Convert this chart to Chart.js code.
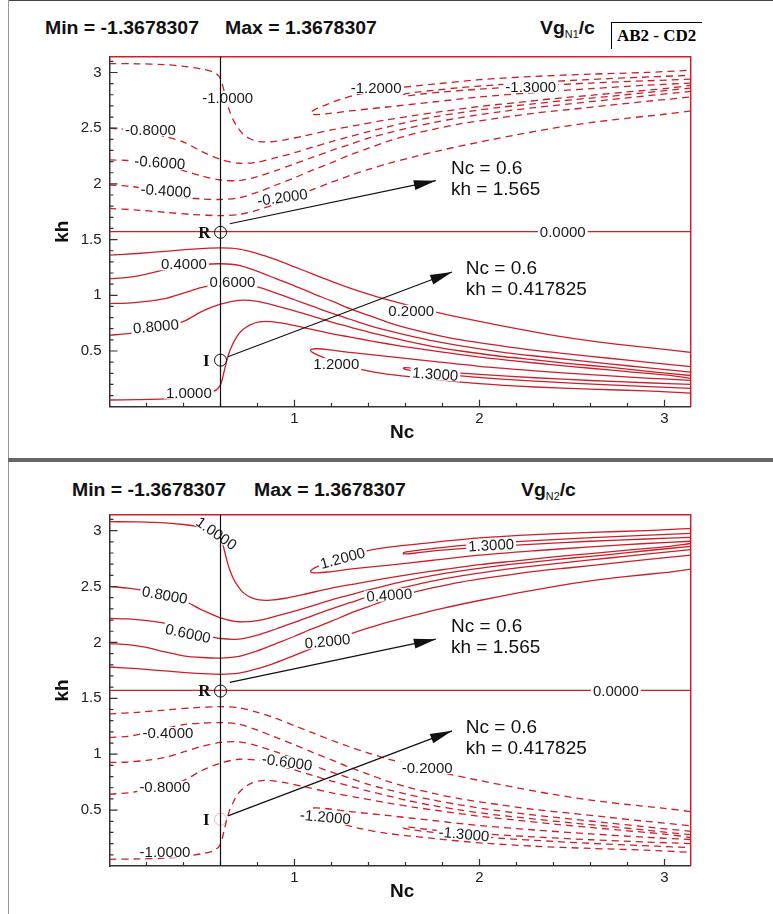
<!DOCTYPE html>
<html><head><meta charset="utf-8">
<script src="https://cdn.jsdelivr.net/npm/chart.js@4.4.1/dist/chart.umd.min.js"></script>
<style>
html,body{margin:0;padding:0;background:#fff;}
body{width:773px;height:914px;position:relative;overflow:hidden;font-family:"Liberation Sans",Arial,sans-serif;}
canvas{position:absolute;left:0;}
.hdr{position:absolute;font-weight:bold;white-space:pre;color:#111;font-size:18px;line-height:19px;transform:scaleX(1.08);transform-origin:0 50%;}
.hdr sub{font-size:10px;font-weight:normal;vertical-align:-4px;}
.box{position:absolute;border-left:1px solid #000;border-top:1px solid #000;}
.box span{position:absolute;left:5px;top:3px;font-family:"Liberation Serif","Times New Roman",serif;font-weight:bold;font-size:17px;line-height:19px;white-space:pre;color:#000;}
.frame{position:absolute;background:#777;}
</style></head><body>
<div class="frame" style="left:8px;top:0;width:765px;height:1px;background:#444"></div>
<div class="frame" style="left:8px;top:0;width:1px;height:458px;background:#999"></div>
<div class="frame" style="left:8px;top:458px;width:765px;height:4px;background:#666"></div>
<div class="frame" style="left:8px;top:462px;width:1px;height:452px;background:#999"></div>

<div class="hdr" style="left:45px;top:19px">Min = -1.3678307</div>
<div class="hdr" style="left:225px;top:19px">Max = 1.3678307</div>
<div class="hdr" style="left:540px;top:19px">Vg<sub>N1</sub>/c</div>
<div class="box" style="left:611px;top:22px;width:90px;height:26px"><span>AB2 - CD2</span></div>

<div class="hdr" style="left:72px;top:481px">Min = -1.3678307</div>
<div class="hdr" style="left:254px;top:481px">Max = 1.3678307</div>
<div class="hdr" style="left:521px;top:481px">Vg<sub>N2</sub>/c</div>

<canvas id="c1" width="773" height="457" style="top:0"></canvas>
<canvas id="c2" width="773" height="452" style="top:462px"></canvas>
<script>
// ---------- data ----------
const X_TICKS = [1, 2, 3];
const Y_TICKS = [0.5, 1, 1.5, 2, 2.5, 3];
const AXIS_MAX = 3.1416;
const MARK_NC = 0.6;
const MARK_R = 1.565;
const MARK_I = 0.417825;

// contour lines above kh = pi/2 (levels 0.2,0.4,0.6,0.8,1.0,1.2,1.3 in magnitude)
const U02 = [[0,1.78],[0.15,1.765],[0.3,1.745],[0.45,1.725],[0.6,1.715],[0.7,1.725],[0.8,1.765],[0.9,1.82],[1.0,1.885],[1.1,1.95],[1.2,2.015],[1.3,2.075],[1.4,2.13],[1.5,2.18],[1.65,2.245],[1.8,2.305],[2.0,2.375],[2.2,2.44],[2.4,2.5],[2.6,2.55],[2.8,2.59],[3.0,2.625],[3.1416,2.655]];
const U04 = [[0,1.99],[0.1,1.98],[0.2,1.955],[0.3,1.915],[0.4,1.88],[0.5,1.865],[0.6,1.86],[0.7,1.875],[0.8,1.925],[0.9,1.99],[1.0,2.055],[1.1,2.125],[1.2,2.19],[1.3,2.26],[1.4,2.32],[1.5,2.38],[1.6,2.43],[1.75,2.49],[1.9,2.54],[2.1,2.59],[2.3,2.635],[2.5,2.67],[2.7,2.705],[2.9,2.74],[3.1416,2.78]];
const U06 = [[0,2.215],[0.1,2.21],[0.2,2.195],[0.3,2.17],[0.4,2.12],[0.5,2.07],[0.6,2.035],[0.7,2.03],[0.8,2.065],[0.9,2.12],[1.0,2.18],[1.1,2.24],[1.2,2.3],[1.3,2.355],[1.4,2.41],[1.5,2.455],[1.6,2.495],[1.75,2.55],[1.9,2.595],[2.1,2.645],[2.3,2.685],[2.5,2.72],[2.7,2.755],[2.9,2.79],[3.1416,2.83]];
const U08 = [[0,2.5],[0.1,2.485],[0.2,2.46],[0.3,2.425],[0.4,2.375],[0.5,2.29],[0.6,2.22],[0.7,2.185],[0.8,2.195],[0.9,2.235],[1.0,2.28],[1.1,2.33],[1.2,2.38],[1.3,2.425],[1.4,2.47],[1.5,2.51],[1.6,2.55],[1.75,2.6],[1.9,2.64],[2.1,2.685],[2.3,2.72],[2.5,2.755],[2.7,2.785],[2.9,2.82],[3.1416,2.86]];
const U10 = [[0,3.08],[0.15,3.078],[0.3,3.07],[0.4,3.055],[0.5,3.03],[0.56,3.005],[0.59,2.97],[0.605,2.92],[0.62,2.83],[0.635,2.73],[0.65,2.65],[0.67,2.57],[0.693,2.505],[0.72,2.45],[0.76,2.405],[0.81,2.38],[0.87,2.378],[0.95,2.395],[1.05,2.43],[1.2,2.485],[1.35,2.53],[1.5,2.575],[1.65,2.615],[1.8,2.65],[2.0,2.695],[2.2,2.73],[2.4,2.765],[2.6,2.795],[2.8,2.825],[3.0,2.855],[3.1416,2.885]];
const U12 = [[3.1416,2.905],[2.9,2.885],[2.6,2.855],[2.3,2.82],[2.0,2.78],[1.75,2.735],[1.5,2.69],[1.3,2.655],[1.18,2.63],[1.12,2.622],[1.095,2.625],[1.087,2.637],[1.095,2.652],[1.12,2.675],[1.17,2.71],[1.25,2.76],[1.35,2.805],[1.5,2.85],[1.75,2.895],[2.0,2.935],[2.3,2.965],[2.6,2.985],[2.9,3.0],[3.1416,3.02]];
const U13 = [[3.1416,2.94],[2.9,2.925],[2.6,2.905],[2.3,2.88],[2.0,2.85],[1.8,2.825],[1.68,2.805],[1.62,2.793],[1.592,2.792],[1.588,2.8],[1.605,2.81],[1.65,2.822],[1.75,2.84],[1.9,2.865],[2.1,2.89],[2.4,2.92],[2.7,2.945],[2.95,2.962],[3.1416,2.975]];

// contour lines below kh = pi/2
const L02 = [[0,1.36],[0.15,1.375],[0.3,1.395],[0.45,1.415],[0.6,1.425],[0.7,1.415],[0.8,1.375],[0.9,1.32],[1.0,1.255],[1.1,1.19],[1.2,1.125],[1.3,1.065],[1.4,1.01],[1.5,0.96],[1.65,0.895],[1.8,0.835],[2.0,0.765],[2.2,0.7],[2.4,0.64],[2.6,0.59],[2.8,0.55],[3.0,0.515],[3.1416,0.487]];
const L04 = [[0,1.15],[0.1,1.16],[0.2,1.19],[0.3,1.23],[0.4,1.265],[0.5,1.278],[0.6,1.283],[0.7,1.268],[0.8,1.215],[0.9,1.15],[1.0,1.085],[1.1,1.015],[1.2,0.95],[1.3,0.88],[1.4,0.82],[1.5,0.76],[1.6,0.71],[1.75,0.65],[1.9,0.6],[2.1,0.55],[2.3,0.505],[2.5,0.47],[2.7,0.435],[2.9,0.4],[3.1416,0.36]];
const L06 = [[0,0.926],[0.1,0.93],[0.2,0.945],[0.3,0.97],[0.4,1.02],[0.5,1.07],[0.6,1.105],[0.7,1.11],[0.8,1.075],[0.9,1.02],[1.0,0.96],[1.1,0.9],[1.2,0.84],[1.3,0.785],[1.4,0.73],[1.5,0.685],[1.6,0.645],[1.75,0.59],[1.9,0.545],[2.1,0.495],[2.3,0.455],[2.5,0.42],[2.7,0.385],[2.9,0.35],[3.1416,0.31]];
const L08 = [[0,0.642],[0.1,0.655],[0.2,0.68],[0.3,0.715],[0.4,0.765],[0.5,0.855],[0.6,0.92],[0.7,0.955],[0.8,0.945],[0.9,0.905],[1.0,0.86],[1.1,0.81],[1.2,0.76],[1.3,0.715],[1.4,0.67],[1.5,0.63],[1.6,0.59],[1.75,0.54],[1.9,0.5],[2.1,0.455],[2.3,0.42],[2.5,0.385],[2.7,0.355],[2.9,0.32],[3.1416,0.28]];
const L10 = [[0,0.06],[0.15,0.063],[0.3,0.07],[0.4,0.085],[0.5,0.11],[0.56,0.135],[0.59,0.17],[0.605,0.22],[0.62,0.32],[0.635,0.42],[0.65,0.5],[0.67,0.575],[0.693,0.64],[0.72,0.69],[0.76,0.735],[0.81,0.762],[0.87,0.764],[0.95,0.745],[1.05,0.71],[1.2,0.655],[1.35,0.61],[1.5,0.565],[1.65,0.525],[1.8,0.49],[2.0,0.445],[2.2,0.41],[2.4,0.375],[2.6,0.345],[2.8,0.315],[3.0,0.285],[3.1416,0.255]];
const L12 = [[3.1416,0.237],[2.9,0.257],[2.6,0.287],[2.3,0.322],[2.0,0.362],[1.75,0.407],[1.5,0.452],[1.3,0.487],[1.18,0.512],[1.12,0.52],[1.095,0.517],[1.087,0.505],[1.095,0.49],[1.12,0.467],[1.17,0.432],[1.25,0.382],[1.35,0.337],[1.5,0.292],[1.75,0.247],[2.0,0.207],[2.3,0.177],[2.6,0.157],[2.9,0.142],[3.1416,0.122]];
const L13 = [[3.1416,0.2],[2.9,0.215],[2.6,0.235],[2.3,0.26],[2.0,0.29],[1.8,0.315],[1.68,0.335],[1.62,0.348],[1.592,0.35],[1.588,0.342],[1.605,0.332],[1.65,0.32],[1.75,0.3],[1.9,0.277],[2.1,0.25],[2.4,0.22],[2.7,0.195],[2.95,0.178],[3.1416,0.165]];
const ZERO = [[0,1.5708],[3.1416,1.5708]];

const UPPER = [U02, U04, U06, U08, U10, U12, U13];
const LOWER = [L02, L04, L06, L08, L10, L12, L13];

// contour labels: [text, Nc, kh, rotation deg]
const LABELS_N1 = [
  ["-1.0000",0.639,2.775,0],["-0.8000",0.221,2.484,0],["-0.6000",0.272,2.193,4],["-0.4000",0.305,1.94,4],
  ["-0.2000",0.935,1.88,-8],["-1.2000",1.441,2.862,0],["-1.3000",2.277,2.871,0],["0.0000",2.45,1.5708,0],
  ["0.4000",0.402,1.278,0],["0.6000",0.665,1.125,0],["0.8000",0.251,0.722,-5],["1.0000",0.429,0.125,0],
  ["0.2000",1.631,0.86,0],["1.2000",1.226,0.382,0],["1.3000",1.761,0.293,4]
];
const LABELS_N2 = [
  ["1.0000",0.578,2.976,35],["0.8000",0.299,2.424,10],["0.6000",0.425,2.081,12],["0.2000",1.178,2.012,-6],
  ["0.4000",1.512,2.424,-4],["1.2000",1.26,2.755,-15],["1.3000",2.063,2.871,-3],["0.0000",2.737,1.5708,0],
  ["-0.4000",0.316,1.19,0],["-0.8000",0.299,0.707,0],["-1.0000",0.3,0.128,0],["-0.6000",0.96,0.93,8],
  ["-0.2000",1.717,0.877,0],["-1.2000",1.167,0.44,5],["-1.3000",1.916,0.286,5]
];

// ---------- drawing ----------
const RED = '#cc1f2a';
const FONT = '"Liberation Sans", Arial, Helvetica, sans-serif';
const SERIF = '"Liberation Serif", "Times New Roman", serif';
const ANNOT = [
  {from:[0.65,1.642], to:[1.764,2.029], at:[1.846,2.137], lines:["Nc = 0.6","kh = 1.565"]},
  {from:[0.64,0.448], to:[1.852,1.209], at:[1.926,1.24], lines:["Nc = 0.6","kh = 0.417825"]}
];

function arrow(ctx, x1, y1, x2, y2) {
  ctx.beginPath(); ctx.moveTo(x1, y1); ctx.lineTo(x2, y2); ctx.stroke();
  const a = Math.atan2(y2 - y1, x2 - x1), L = 22, W = 5;
  ctx.beginPath(); ctx.moveTo(x2, y2);
  ctx.lineTo(x2 - L*Math.cos(a) + W*Math.sin(a), y2 - L*Math.sin(a) - W*Math.cos(a));
  ctx.lineTo(x2 - L*Math.cos(a) - W*Math.sin(a), y2 - L*Math.sin(a) + W*Math.cos(a));
  ctx.closePath(); ctx.fill();
}

const overlay = {
  id: 'overlay',
  afterDraw(chart, args, opts) {
    const ctx = chart.ctx, xs = chart.scales.x, ys = chart.scales.y, ca = chart.chartArea;
    const P = (x, y) => [xs.getPixelForValue(x), ys.getPixelForValue(y)];
    ctx.save();
    // contour labels with a gap in the line
    ctx.font = '15px ' + FONT;
    ctx.textAlign = 'center'; ctx.textBaseline = 'middle';
    opts.labels.forEach(([t, x, y, r]) => {
      const [X, Y] = P(x, y);
      const w = ctx.measureText(t).width + 4;
      ctx.save(); ctx.translate(X, Y); ctx.rotate(r * Math.PI / 180);
      ctx.fillStyle = '#fff'; ctx.fillRect(-w/2, -6, w, 12);
      ctx.fillStyle = '#1a1a1a'; ctx.fillText(t, 0, 1);
      ctx.restore();
    });
    // red frame (top, right)
    ctx.strokeStyle = RED; ctx.lineWidth = 1.5;
    ctx.beginPath(); ctx.moveTo(ca.left, ca.top); ctx.lineTo(ca.right, ca.top); ctx.lineTo(ca.right, ca.bottom); ctx.stroke();
    // inner ticks
    ctx.strokeStyle = '#333'; ctx.lineWidth = 1.2;
    ctx.beginPath();
    for (let i = 1; i * 0.2 < AXIS_MAX; i++) {
      const v = i * 0.2, major = Math.abs(v - Math.round(v)) < 1e-6;
      const X = xs.getPixelForValue(v);
      ctx.moveTo(X, ca.bottom); ctx.lineTo(X, ca.bottom - (major ? 7 : 4));
    }
    for (let i = 1; i * 0.1 < AXIS_MAX; i++) {
      const v = i * 0.1, major = Math.abs(v * 2 - Math.round(v * 2)) < 1e-6;
      const Y = ys.getPixelForValue(v);
      ctx.moveTo(ca.left, Y); ctx.lineTo(ca.left + (major ? 8 : 4), Y);
    }
    ctx.stroke();
    // vertical marker line
    const XM = xs.getPixelForValue(MARK_NC);
    ctx.strokeStyle = '#111'; ctx.lineWidth = 1.2;
    ctx.beginPath(); ctx.moveTo(XM, ca.bottom); ctx.lineTo(XM, ca.top); ctx.stroke();
    // arrows + texts
    ctx.fillStyle = '#111';
    ANNOT.forEach(a => {
      const [x1, y1] = P(a.from[0], a.from[1]), [x2, y2] = P(a.to[0], a.to[1]);
      ctx.lineWidth = 1.2; arrow(ctx, x1, y1, x2, y2);
      const [tx, ty] = P(a.at[0], a.at[1]);
      ctx.font = '19px ' + FONT; ctx.textAlign = 'left'; ctx.textBaseline = 'middle';
      a.lines.forEach((s, k) => ctx.fillText(s, tx, ty + k * 21));
    });
    // R and I points
    [[MARK_R, 'R', 11, false], [MARK_I, 'I', 12, opts.faintI]].forEach(([kh, t, off, faint]) => {
      const [X, Y] = P(MARK_NC, kh);
      ctx.strokeStyle = faint ? 'rgba(200,60,60,0.35)' : '#111'; ctx.lineWidth = 1;
      ctx.beginPath(); ctx.arc(X, Y, 6, 0, 2 * Math.PI); ctx.stroke();
      ctx.fillStyle = '#111'; ctx.font = 'bold 17px ' + SERIF; ctx.textAlign = 'right'; ctx.textBaseline = 'middle';
      ctx.fillText(t, X - off + 1, Y + 1);
    });
    // axis titles
    ctx.fillStyle = '#111'; ctx.font = 'bold 19px ' + FONT; ctx.textAlign = 'center'; ctx.textBaseline = 'middle';
    ctx.fillText('Nc', (ca.left + ca.right) / 2 + 2, ca.bottom + 26);
    ctx.save(); ctx.translate(ca.left - 47, (ca.top + ca.bottom) / 2); ctx.rotate(-Math.PI / 2);
    ctx.fillText('kh', 0, 0); ctx.restore();
    ctx.restore();
  }
};

function makeChart(id, upperDashed, labels, pad, faintI) {
  const ds = [];
  const add = (pts, dashed) => ds.push({
    data: pts.map(p => ({x: p[0], y: p[1]})), showLine: true, borderColor: RED, borderWidth: 1.3,
    borderDash: dashed ? [7, 5] : [], pointRadius: 0, tension: 0.3, fill: false
  });
  UPPER.forEach(c => add(c, upperDashed));
  LOWER.forEach(c => add(c, !upperDashed));
  add(ZERO, false);
  const tickFont = {size: 15, family: FONT};
  return new Chart(document.getElementById(id), {
    type: 'scatter',
    data: {datasets: ds},
    options: {
      responsive: false, animation: false, events: [],
      layout: {padding: pad},
      plugins: {legend: {display: false}, tooltip: {enabled: false}, overlay: {labels, faintI}},
      scales: {
        x: {type: 'linear', min: 0, max: AXIS_MAX,
            afterBuildTicks: s => { s.ticks = X_TICKS.map(v => ({value: v})); },
            afterFit: s => { s.height = 30; },
            grid: {display: false, drawTicks: false},
            border: {display: true, color: '#333', width: 1.5},
            ticks: {font: tickFont, color: '#222', padding: 3, maxRotation: 0, autoSkip: false, callback: v => String(v)}},
        y: {type: 'linear', min: 0, max: AXIS_MAX,
            afterBuildTicks: s => { s.ticks = Y_TICKS.map(v => ({value: v})); },
            afterFit: s => { s.width = 60; },
            grid: {display: false, drawTicks: false},
            border: {display: true, color: '#333', width: 1.5},
            ticks: {font: tickFont, color: '#222', padding: 8, autoSkip: false, callback: v => String(v)}}
      }
    },
    plugins: [overlay]
  });
}

makeChart('c1', true, LABELS_N1, {left: 49.5, top: 56.7, right: 82.3, bottom: 20.3}, false);
makeChart('c2', false, LABELS_N2, {left: 49.5, top: 52.8, right: 82.3, bottom: 18}, true);
</script>
</body></html>
